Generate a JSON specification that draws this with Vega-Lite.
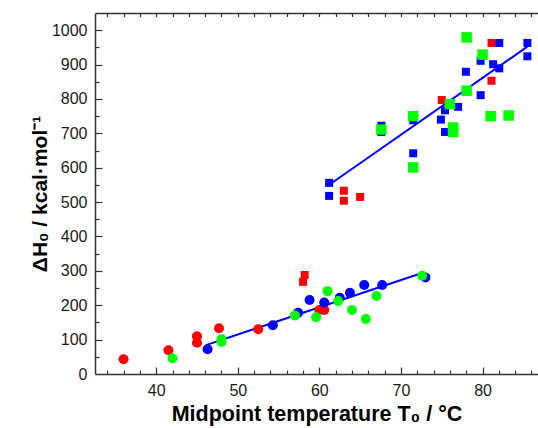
{
  "$schema": "https://vega.github.io/schema/vega-lite/v6.json",
  "autosize": "none",
  "width": 443,
  "height": 361,
  "padding": {"left": 95, "top": 13, "right": 0, "bottom": 54},
  "background": "white",
  "config": {
    "view": {"stroke": null},
    "font": "Liberation Sans",
    "axis": {"labelFont": "Liberation Sans", "titleFont": "Liberation Sans", "grid": false,
             "tickColor": "#333", "tickWidth": 1.2, "domainColor": "#333", "domainWidth": 1.5}
  },
  "datasets": {
    "points": [
      {"T": 36.0, "H": 43, "series": "red", "marker": "circle"},
      {"T": 41.5, "H": 69, "series": "red", "marker": "circle"},
      {"T": 45.0, "H": 110, "series": "red", "marker": "circle"},
      {"T": 45.0, "H": 91, "series": "red", "marker": "circle"},
      {"T": 47.7, "H": 133, "series": "red", "marker": "circle"},
      {"T": 52.5, "H": 130, "series": "red", "marker": "circle"},
      {"T": 60.0, "H": 186, "series": "red", "marker": "circle"},
      {"T": 60.6, "H": 186, "series": "red", "marker": "circle"},
      {"T": 46.3, "H": 72, "series": "blue", "marker": "circle"},
      {"T": 54.3, "H": 142, "series": "blue", "marker": "circle"},
      {"T": 57.4, "H": 178, "series": "blue", "marker": "circle"},
      {"T": 58.8, "H": 215, "series": "blue", "marker": "circle"},
      {"T": 60.6, "H": 208, "series": "blue", "marker": "circle"},
      {"T": 62.5, "H": 222, "series": "blue", "marker": "circle"},
      {"T": 63.75, "H": 236, "series": "blue", "marker": "circle"},
      {"T": 65.5, "H": 259, "series": "blue", "marker": "circle"},
      {"T": 67.7, "H": 259, "series": "blue", "marker": "circle"},
      {"T": 73.0, "H": 281, "series": "blue", "marker": "circle"},
      {"T": 42.0, "H": 46, "series": "green", "marker": "circle"},
      {"T": 48.0, "H": 101, "series": "green", "marker": "circle"},
      {"T": 48.0, "H": 93, "series": "green", "marker": "circle"},
      {"T": 57.0, "H": 170, "series": "green", "marker": "circle"},
      {"T": 59.6, "H": 165, "series": "green", "marker": "circle"},
      {"T": 61.0, "H": 241, "series": "green", "marker": "circle"},
      {"T": 62.3, "H": 212, "series": "green", "marker": "circle"},
      {"T": 64.0, "H": 186, "series": "green", "marker": "circle"},
      {"T": 65.7, "H": 160, "series": "green", "marker": "circle"},
      {"T": 67.0, "H": 227, "series": "green", "marker": "circle"},
      {"T": 72.6, "H": 286, "series": "green", "marker": "circle"},
      {"T": 58.0, "H": 268, "series": "red", "marker": "square"},
      {"T": 58.2, "H": 288, "series": "red", "marker": "square"},
      {"T": 63.0, "H": 533, "series": "red", "marker": "square"},
      {"T": 63.0, "H": 504, "series": "red", "marker": "square"},
      {"T": 65.0, "H": 515, "series": "red", "marker": "square"},
      {"T": 75.0, "H": 797, "series": "red", "marker": "square"},
      {"T": 81.1, "H": 963, "series": "red", "marker": "square"},
      {"T": 81.1, "H": 853, "series": "red", "marker": "square"},
      {"T": 61.2, "H": 556, "series": "blue", "marker": "square"},
      {"T": 61.2, "H": 518, "series": "blue", "marker": "square"},
      {"T": 67.6, "H": 722, "series": "blue", "marker": "square"},
      {"T": 67.6, "H": 704, "series": "blue", "marker": "square"},
      {"T": 71.5, "H": 738, "series": "blue", "marker": "square"},
      {"T": 71.5, "H": 642, "series": "blue", "marker": "square"},
      {"T": 74.9, "H": 740, "series": "blue", "marker": "square"},
      {"T": 75.4, "H": 767, "series": "blue", "marker": "square"},
      {"T": 75.4, "H": 704, "series": "blue", "marker": "square"},
      {"T": 77.0, "H": 777, "series": "blue", "marker": "square"},
      {"T": 77.96, "H": 879, "series": "blue", "marker": "square"},
      {"T": 79.77, "H": 911, "series": "blue", "marker": "square"},
      {"T": 79.77, "H": 811, "series": "blue", "marker": "square"},
      {"T": 81.3, "H": 901, "series": "blue", "marker": "square"},
      {"T": 82.05, "H": 963, "series": "blue", "marker": "square"},
      {"T": 82.05, "H": 889, "series": "blue", "marker": "square"},
      {"T": 85.5, "H": 963, "series": "blue", "marker": "square"},
      {"T": 85.5, "H": 924, "series": "blue", "marker": "square"},
      {"T": 67.6, "H": 711, "series": "green", "marker": "square"},
      {"T": 71.5, "H": 750, "series": "green", "marker": "square"},
      {"T": 71.5, "H": 601, "series": "green", "marker": "square"},
      {"T": 76.0, "H": 785, "series": "green", "marker": "square"},
      {"T": 76.4, "H": 717, "series": "green", "marker": "square"},
      {"T": 76.4, "H": 704, "series": "green", "marker": "square"},
      {"T": 78.05, "H": 979, "series": "green", "marker": "square"},
      {"T": 78.05, "H": 824, "series": "green", "marker": "square"},
      {"T": 80.0, "H": 929, "series": "green", "marker": "square"},
      {"T": 81.0, "H": 750, "series": "green", "marker": "square"},
      {"T": 83.2, "H": 752, "series": "green", "marker": "square"}
    ],
    "fits": [
      {"T": 46.1, "H": 84, "fit": "lower"},
      {"T": 72.5, "H": 293, "fit": "lower"},
      {"T": 61.3, "H": 552, "fit": "upper"},
      {"T": 85.5, "H": 952, "fit": "upper"}
    ]
  },
  "resolve": {"axis": {"x": "independent", "y": "independent"}},
  "layer": [
    {
      "data": {"name": "fits"},
      "transform": [{"filter": "datum.fit === 'lower'"}],
      "mark": {"type": "line", "color": "#0000ff", "strokeWidth": 2},
      "encoding": {
        "x": {
          "field": "T", "type": "quantitative",
          "scale": {"domain": [32.5, 86.8], "nice": false, "zero": false},
          "axis": {"orient": "top", "ticks": false, "labels": false, "title": null, "domain": true}
        },
        "y": {
          "field": "H", "type": "quantitative",
          "scale": {"domain": [0, 1050], "nice": false, "zero": true},
          "axis": {
            "orient": "left", "values": [0,100,200,300,400,500,600,700,800,900,1000],
            "format": "d", "ticks": false, "domain": true,
            "labelFontSize": 16, "labelColor": "#1a1a1a", "labelPadding": 8,
            "title": "ΔH₀ / kcal·mol⁻¹", "titleFontSize": 21, "titleFontWeight": "bold",
            "titleColor": "#000", "titlePadding": 1
          }
        }
      }
    },
    {
      "data": {"name": "fits"},
      "transform": [{"filter": "datum.fit === 'upper'"}],
      "mark": {"type": "line", "color": "#0000ff", "strokeWidth": 2},
      "encoding": {
        "x": {
          "field": "T", "type": "quantitative",
          "scale": {"domain": [32.5, 86.8], "nice": false, "zero": false},
          "axis": {"orient": "top", "offset": -3.5, "tickSize": 3.5, "domain": false, "labels": false, "title": null,
                   "values": [34,36,38,40,42,44,46,48,50,52,54,56,58,60,62,64,66,68,70,72,74,76,78,80,82,84,86]}
        },
        "y": {
          "field": "H", "type": "quantitative",
          "scale": {"domain": [0, 1050], "nice": false, "zero": true},
          "axis": null
        }
      }
    },
    {
      "data": {"name": "points"},
      "transform": [{"filter": "datum.marker === 'circle'"}],
      "mark": {"type": "circle", "opacity": 1, "size": 100},
      "encoding": {
        "x": {
          "field": "T", "type": "quantitative",
          "scale": {"domain": [32.5, 86.8], "nice": false, "zero": false},
          "axis": {
            "orient": "bottom", "values": [40,50,60,70,80], "ticks": false, "domain": true,
            "labelFontSize": 16, "labelColor": "#1a1a1a", "labelPadding": 8,
            "title": "Midpoint temperature T₀  / °C", "titleFontSize": 21.5, "titleFontWeight": "bold",
            "titleColor": "#000", "titlePadding": 5
          }
        },
        "y": {
          "field": "H", "type": "quantitative",
          "scale": {"domain": [0, 1050], "nice": false, "zero": true},
          "axis": {"orient": "left", "offset": -7, "tickSize": 7, "domain": false, "labels": false, "title": null,
                   "values": [100,200,300,400,500,600,700,800,900,1000]}
        },
        "color": {
          "field": "series", "type": "nominal",
          "scale": {"domain": ["red", "blue", "green"], "range": ["#ff0000", "#0000ff", "#00ff00"]},
          "legend": null
        }
      }
    },
    {
      "data": {"name": "points"},
      "transform": [{"filter": "datum.marker === 'square' && datum.series !== 'green'"}],
      "mark": {"type": "square", "opacity": 1, "size": 64},
      "encoding": {
        "x": {
          "field": "T", "type": "quantitative",
          "scale": {"domain": [32.5, 86.8], "nice": false, "zero": false},
          "axis": {"orient": "bottom", "offset": -7, "tickSize": 7, "domain": false, "labels": false, "title": null,
                   "values": [40,50,60,70,80]}
        },
        "y": {
          "field": "H", "type": "quantitative",
          "scale": {"domain": [0, 1050], "nice": false, "zero": true},
          "axis": {"orient": "left", "offset": -4, "tickSize": 4, "domain": false, "labels": false, "title": null,
                   "values": [50,150,250,350,450,550,650,750,850,950]}
        },
        "color": {
          "field": "series", "type": "nominal",
          "scale": {"domain": ["red", "blue", "green"], "range": ["#ff0000", "#0000ff", "#00ff00"]},
          "legend": null
        }
      }
    },
    {
      "data": {"name": "points"},
      "transform": [{"filter": "datum.marker === 'square' && datum.series === 'green'"}],
      "mark": {"type": "square", "opacity": 1, "size": 110},
      "encoding": {
        "x": {
          "field": "T", "type": "quantitative",
          "scale": {"domain": [32.5, 86.8], "nice": false, "zero": false},
          "axis": {"orient": "bottom", "offset": -4, "tickSize": 4, "domain": false, "labels": false, "title": null,
                   "values": [34,36,38,42,44,46,48,52,54,56,58,62,64,66,68,72,74,76,78,82,84,86]}
        },
        "y": {
          "field": "H", "type": "quantitative",
          "scale": {"domain": [0, 1050], "nice": false, "zero": true},
          "axis": null
        },
        "color": {
          "field": "series", "type": "nominal",
          "scale": {"domain": ["red", "blue", "green"], "range": ["#ff0000", "#0000ff", "#00ff00"]},
          "legend": null
        }
      }
    }
  ]
}
